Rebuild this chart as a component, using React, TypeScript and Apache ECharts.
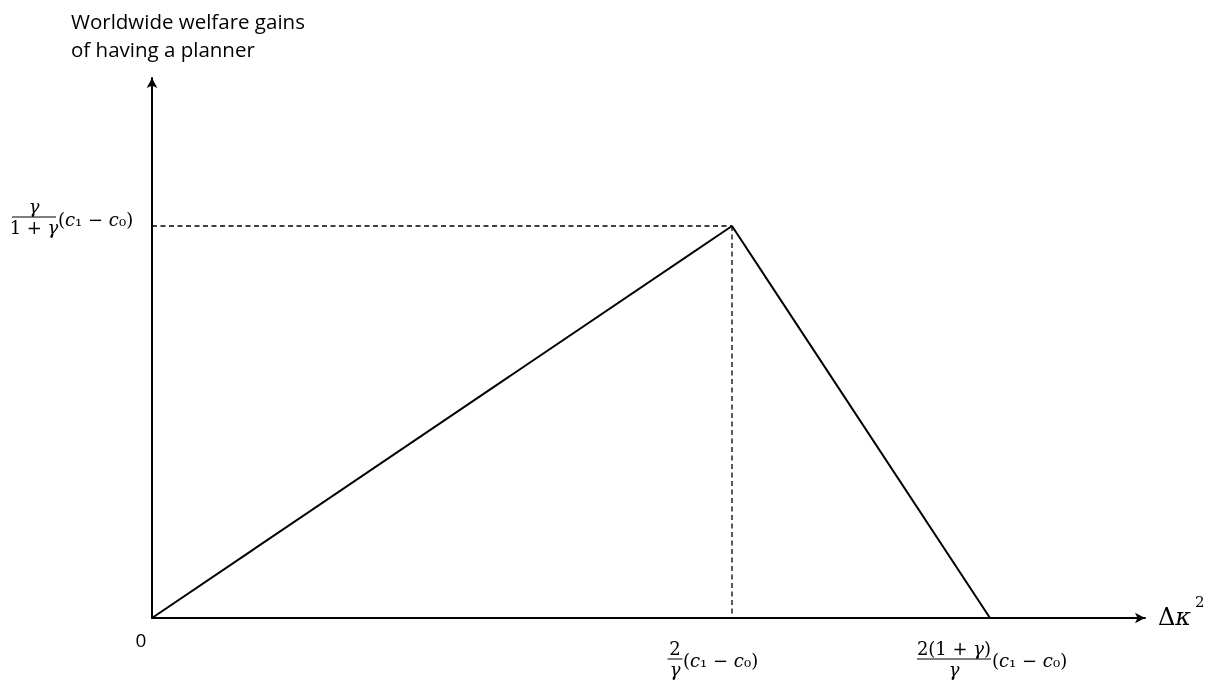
import React, { useEffect, useRef } from "react";
import * as echarts from "echarts";

// Kink points of the welfare-gain curve (abstract units)
const curveX = [0, 5.8, 8.38];
const curveY = [0, 3.92, 0];
const axisMaxX = 9.93;
const axisMaxY = 5.4;
const titleLines = ["Worldwide welfare gains", "of having a planner"];
const originLabel = "0";

const SERIF = "'DejaVu Serif', serif";
const SANS = "'Open Sans', sans-serif";
const FS = 18;

const mathRich = {
  i: { fontFamily: SERIF, fontStyle: "italic", fontSize: FS, fill: "#000" },
  n: { fontFamily: SERIF, fontSize: FS, fill: "#000" },
  s: { fontFamily: SERIF, fontSize: FS, fill: "#000" },
};

function fracGroup(cx: number, barY: number, width: number, num: string, den: string) {
  return [
    {
      type: "text",
      x: cx,
      y: barY - 2,
      style: { text: num, rich: mathRich, align: "center", verticalAlign: "bottom", font: `${FS}px ${SERIF}`, fill: "#000" },
    },
    {
      type: "line",
      shape: { x1: cx - width / 2, y1: barY, x2: cx + width / 2, y2: barY },
      style: { stroke: "#000", lineWidth: 1 },
    },
    {
      type: "text",
      x: cx,
      y: barY + 1,
      style: { text: den, rich: mathRich, align: "center", verticalAlign: "top", font: `${FS}px ${SERIF}`, fill: "#000" },
    },
  ];
}

function paren(x: number, y: number, align: string) {
  return {
    type: "text",
    x,
    y,
    style: {
      text: "{n|(}{i|c}{s|₁}{n| − }{i|c}{s|₀}{n|)}",
      rich: mathRich,
      align,
      verticalAlign: "middle",
      font: `${FS}px ${SERIF}`,
      fill: "#000",
    },
  };
}

export default function App() {
  const ref = useRef<HTMLDivElement>(null);
  useEffect(() => {
    if (!ref.current) return;
    const chart = echarts.init(ref.current, null, { renderer: "svg" });
    const mainData = curveX.map((x, i) => [x, curveY[i]]);
    const peakX = curveX[1];
    const peakY = curveY[1];
    const endX = curveX[2];
    chart.setOption({
      animation: false,
      title: {
        text: titleLines.join("\n"),
        left: 66,
        top: 2,
        textStyle: { fontFamily: SANS, fontSize: 20.5, fontWeight: "normal", color: "#000", lineHeight: 28 },
      },
      grid: { left: 152, right: 69, top: 78, bottom: 67, containLabel: false },
      xAxis: {
        type: "value",
        min: 0,
        max: axisMaxX,
        axisLine: { show: true, onZero: false, symbol: ["none", "arrow"], symbolSize: [8, 10], lineStyle: { color: "#000", width: 2 } },
        axisTick: { show: false },
        axisLabel: { show: false },
        splitLine: { show: false },
      },
      yAxis: {
        type: "value",
        min: 0,
        max: axisMaxY,
        axisLine: { show: true, onZero: false, symbol: ["none", "arrow"], symbolSize: [8, 10], lineStyle: { color: "#000", width: 2 } },
        axisTick: { show: false },
        axisLabel: { show: false },
        splitLine: { show: false },
      },
      series: [
        {
          type: "line",
          data: [[0, peakY], [peakX, peakY]],
          symbol: "none",
          lineStyle: { color: "#000", width: 1.3, type: [5, 3.5] },
          z: 1,
        },
        {
          type: "line",
          data: [[peakX, peakY], [peakX, 0]],
          symbol: "none",
          lineStyle: { color: "#000", width: 1.3, type: [5, 3.5] },
          z: 1,
        },
        {
          type: "line",
          data: mainData,
          symbol: "none",
          lineStyle: { color: "#000", width: 2 },
          z: 3,
        },
      ],
    });

    const [ox, oy] = chart.convertToPixel({ gridIndex: 0 }, [0, 0]) as number[];
    const [, py] = chart.convertToPixel({ gridIndex: 0 }, [0, peakY]) as number[];
    const [px] = chart.convertToPixel({ gridIndex: 0 }, [peakX, 0]) as number[];
    const [ex] = chart.convertToPixel({ gridIndex: 0 }, [endX, 0]) as number[];
    const [ax] = chart.convertToPixel({ gridIndex: 0 }, [axisMaxX, 0]) as number[];

    const graphics: any[] = [];
    // y-axis label
    graphics.push(...fracGroup(ox - 118, py - 9, 44, "{i|γ}", "{n|1 + }{i|γ}"));
    graphics.push(paren(ox - 94, py - 7, "left"));
    // x label at peak
    graphics.push(...fracGroup(px - 57, oy + 41, 15, "{n|2}", "{i|γ}"));
    graphics.push(paren(px - 49, oy + 42, "left"));
    // x label at end
    graphics.push(...fracGroup(ex - 36, oy + 41, 74, "{n|2(1 + }{i|γ}{n|)}", "{i|γ}"));
    graphics.push(paren(ex + 2, oy + 42, "left"));
    // origin
    graphics.push({
      type: "text",
      x: ox - 11,
      y: oy + 22,
      style: { text: originLabel, font: `19px ${SANS}`, fill: "#000", align: "center", verticalAlign: "middle" },
    });
    // x axis name: Δκ²
    graphics.push({
      type: "text",
      x: ax + 13,
      y: oy - 1,
      style: {
        text: "{n|Δ}{i|κ}",
        rich: {
          n: { fontFamily: SERIF, fontSize: 24, fill: "#000" },
          i: { fontFamily: SERIF, fontStyle: "italic", fontSize: 24, fill: "#000" },
        },
        align: "left",
        verticalAlign: "middle",
        fill: "#000",
      },
    });
    graphics.push({
      type: "text",
      x: ax + 50,
      y: oy - 16,
      style: { text: "2", font: `15px ${SERIF}`, fill: "#000", align: "left", verticalAlign: "middle" },
    });
    chart.setOption({ graphic: graphics });

    return () => chart.dispose();
  }, []);
  return <div ref={ref} style={{ position: "fixed", left: 0, top: 0, width: 1214, height: 685 }} />;
}
